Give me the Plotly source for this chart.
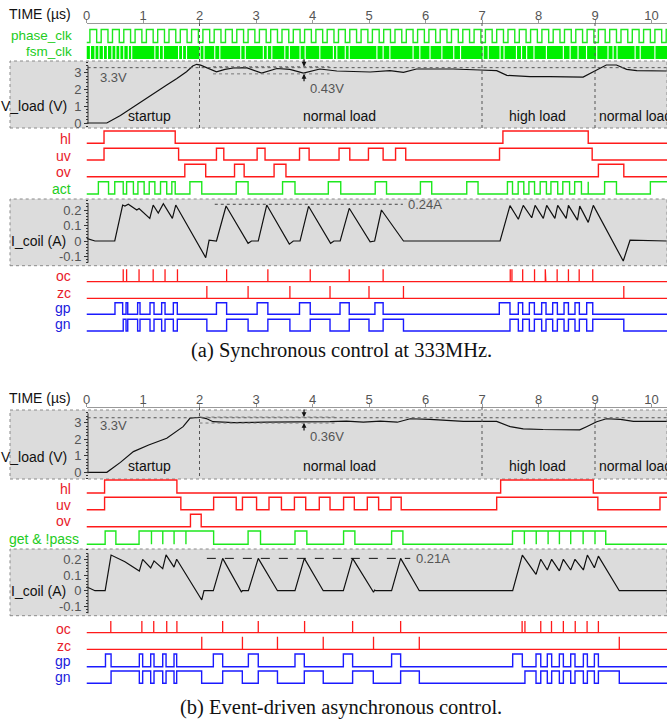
import plotly.graph_objects as go

# ---------------------------------------------------------------- geometry
W, H = 667, 719
T0_PX = 86.5          # pixel column of t = 0
PX_PER_US = 56.5
T_END = (W - T0_PX) / PX_PER_US

# ---------------------------------------------------------------- data
TIME_TICKS = list(range(0, 11))

# panel (a) : synchronous control
A_PHASE_CLK_RISE = [0.06, 0.26, 0.46, 0.66, 0.86, 1.06, 1.26, 1.46, 1.66, 1.86, 2.06, 2.26, 2.46,
                    2.66, 2.86, 3.06, 3.26, 3.46, 3.66, 3.86, 4.06, 4.26, 4.46, 4.66, 4.86, 5.06,
                    5.26, 5.46, 5.66, 5.86, 6.06, 6.26, 6.46, 6.66, 6.86, 7.06, 7.26, 7.46, 7.66,
                    7.86, 8.06, 8.26, 8.46, 8.66, 8.86, 9.06, 9.26, 9.46, 9.66, 9.86, 10.06, 10.26]
A_PHASE_CLK_HIGH = 0.12
A_FSM_CLK_GAPS = [0.07, 0.15, 0.22, 0.30, 0.37, 0.45, 0.52, 0.59, 0.66, 0.74, 0.80, 1.21, 1.29,
                  1.36, 1.63, 1.70, 1.77, 2.01, 2.08, 2.27, 2.36, 2.73, 2.81, 3.13, 3.20, 3.28,
                  3.51, 3.59, 3.78, 3.87, 4.13, 4.37, 4.43, 4.58, 4.65, 5.14, 5.25, 5.37, 5.78,
                  5.90, 6.08, 6.29, 6.50, 6.62, 7.02, 7.11, 7.32, 7.39, 7.61, 7.70, 7.79, 7.92,
                  8.14, 8.44, 8.56, 8.70, 8.85, 9.03, 9.23, 9.32, 9.39, 9.71, 9.80, 10.06]
A_V_T = [0, 0.36, 0.6, 0.83, 1.1, 1.42, 1.6, 1.77, 1.88, 1.95, 2.02, 2.13, 2.30, 2.45, 2.60, 2.83,
         3.10, 3.37, 3.60, 3.84, 4.13, 4.43, 4.66, 5.02, 5.37, 5.61, 5.84, 6.49, 6.96, 7.26, 7.44,
         7.85, 8.2, 8.79, 9.03, 9.2, 9.38, 9.56, 9.74, 10.27]
A_V = [0, 0, 0.45, 0.97, 1.55, 2.27, 2.65, 3.06, 3.4, 3.5, 3.45, 3.3, 3.05, 3.2, 3.28, 3.3, 2.98,
       3.25, 3.2, 2.98, 3.22, 3.1, 3.06, 3.04, 3.12, 3.02, 3.22, 3.22, 3.16, 3.12, 2.84, 2.76, 2.76,
       2.74, 3.16, 3.46, 3.46, 3.2, 3.12, 3.10]
A_HL = [(0.31, 1.57), (7.37, 8.88)]
A_UV = [(0.31, 1.63), (2.30, 2.43), (3.02, 3.16), (3.77, 3.94), (4.47, 4.66), (4.99, 5.25),
        (5.47, 5.65), (7.31, 8.95)]
A_OV = [(1.74, 2.11), (2.62, 2.79), (3.32, 3.53), (9.06, 9.51)]
A_ACT = [(0.21, 0.39), (0.50, 0.65), (0.71, 0.83), (0.91, 1.02), (1.11, 1.21), (1.31, 1.42),
         (1.51, 1.57), (1.83, 2.04), (2.65, 2.86), (3.47, 3.69), (4.28, 4.50), (5.11, 5.31),
         (5.91, 6.11), (6.73, 6.93), (7.45, 7.54), (7.64, 7.74), (7.83, 7.93), (8.03, 8.14),
         (8.22, 8.34), (8.43, 8.55), (8.64, 8.76), (8.88, 8.88), (9.17, 9.38), (9.98, None)]
A_I_T = [0, 0.15, 0.5, 0.64, 0.68, 0.74, 0.89, 0.93, 1.12, 1.18, 1.27, 1.36, 1.52, 1.58, 2.11, 2.17,
         2.30, 2.47, 2.86, 2.92, 3.04, 3.19, 3.59, 3.66, 3.78, 3.93, 4.32, 4.38, 4.49, 4.65, 5.02,
         5.10, 5.22, 5.61, 7.32, 7.495, 7.643, 7.73, 7.88, 7.94, 8.085, 8.145, 8.29, 8.34, 8.49,
         8.53, 8.69, 8.73, 8.88, 8.97, 9.50, 9.62, 10.27]
A_I = [0.017, 0, 0, 0.232, 0.226, 0.237, 0.2, 0.21, 0.146, 0.232, 0.18, 0.24, 0.146, 0.232, -0.107,
       0.006, 0, 0.226, -0.015, 0, 0, 0.232, -0.02, 0, 0, 0.224, -0.015, 0, 0, 0.211, -0.005, 0,
       0.2, 0, 0, 0.228, 0.14, 0.23, 0.15, 0.23, 0.146, 0.23, 0.146, 0.23, 0.146, 0.23, 0.135,
       0.225, 0.12, 0.23, -0.129, 0.005, 0]
A_OC = [0.65, 0.71, 0.93, 1.18, 1.39, 1.61, 2.48, 3.21, 3.96, 4.65, 5.25, 7.50, 7.53, 7.72, 7.93,
        8.12, 8.13, 8.33, 8.53, 8.72, 8.96]
A_ZC = [2.13, 2.86, 3.60, 4.31, 5.00, 5.61, 9.51]
A_GP = [(0.504, 0.64), (0.70, 0.73), (0.905, 0.947), (1.124, 1.195), (1.33, 1.39), (1.537, 1.607),
        (2.30, 2.48), (3.02, 3.21), (3.77, 3.96), (4.487, 4.65), (5.105, 5.25), (7.306, 7.495),
        (7.643, 7.72), (7.838, 7.927), (8.056, 8.133), (8.251, 8.334), (8.452, 8.53),
        (8.646, 8.723), (8.853, 8.96)]
A_GN = [(0.65, 0.70), (0.73, 0.905), (0.947, 1.124), (1.195, 1.33), (1.39, 1.537), (1.607, 2.13),
        (2.48, 2.86), (3.21, 3.60), (3.96, 4.31), (4.65, 5.00), (5.25, 5.61), (7.495, 7.643),
        (7.72, 7.838), (7.927, 8.056), (8.133, 8.251), (8.334, 8.452), (8.53, 8.646),
        (8.723, 8.853), (8.96, 9.51)]

# panel (b) : event-driven asynchronous control
B_V_T = [0, 0.36, 0.6, 0.83, 1.1, 1.42, 1.71, 1.83, 2.01, 2.12, 2.24, 2.6, 3.19, 3.78, 4.31, 4.6,
         4.9, 5.2, 5.5, 5.73, 6.08, 6.67, 7.26, 7.5, 7.73, 8.08, 8.73, 8.85, 9.03, 9.2, 9.45, 9.68,
         10.27]
B_V = [0, 0, 0.6, 1.25, 1.65, 2.06, 2.76, 3.27, 3.33, 3.25, 3.06, 3.0, 3.03, 3.04, 3.06, 3.1, 3.04,
       3.1, 3.03, 3.24, 3.2, 3.08, 3.08, 2.76, 2.63, 2.59, 2.57, 2.76, 3.06, 3.24, 3.2, 3.08, 3.08]
B_HL = [(0.32, 1.60), (7.33, 8.97)]
B_UV = [(0.32, 1.67), (2.25, 2.65), (2.76, 3.01), (3.23, 3.45), (3.68, 3.88), (4.12, 4.31),
        (4.55, 4.74), (4.97, 5.17), (5.39, 5.57), (7.26, 9.05), (10.15, None)]
B_OV = [(1.84, 2.03)]
B_GET = [(0.33, 0.52), (0.93, 1.15), (1.15, 1.35), (1.35, 1.55), (1.55, 1.76), (1.76, 2.25),
         (2.86, 3.08), (3.69, 3.90), (4.55, 4.75), (5.40, 5.60), (7.54, 7.75), (7.75, 7.96),
         (7.96, 8.17), (8.17, 8.37), (8.37, 8.57), (8.57, 8.79), (8.79, 9.00), (9.00, 9.19)]
B_I_T = [0, 0.15, 0.33, 0.435, 0.68, 0.935, 0.994, 1.136, 1.195, 1.349, 1.408, 1.549, 1.596, 2.04,
         2.08, 2.245, 2.41, 2.74, 2.76, 2.865, 3.04, 3.38, 3.69, 3.855, 4.19, 4.546, 4.71, 5.08,
         5.10, 5.12, 5.40, 5.56, 5.89, 7.543, 7.714, 7.956, 8.04, 8.156, 8.233, 8.369, 8.44, 8.57,
         8.646, 8.794, 8.865, 8.989, 9.06, 9.43, 10.27]
B_I = [0.025, 0, 0, 0.227, 0.185, 0.125, 0.2, 0.145, 0.19, 0.14, 0.228, 0.15, 0.2, -0.059, 0, 0,
       0.206, -0.007, 0, 0, 0.206, 0, 0, 0.206, 0, 0, 0.206, -0.01, 0.004, 0, 0, 0.206, 0, 0,
       0.227, 0.104, 0.2, 0.132, 0.2, 0.126, 0.2, 0.132, 0.2, 0.132, 0.227, 0.146, 0.22, 0, 0]
B_OC = [0.43, 0.98, 1.19, 1.42, 1.60, 2.41, 3.04, 3.86, 4.71, 5.56, 7.71, 7.76, 8.04, 8.23, 8.44,
        8.65, 8.86, 9.06]
B_ZC = [2.04, 2.76, 3.38, 4.19, 5.08, 5.89, 9.43]
B_GP = [(0.336, 0.435), (0.935, 0.994), (1.136, 1.195), (1.349, 1.408), (1.549, 1.596),
        (2.245, 2.41), (2.865, 3.04), (3.69, 3.855), (4.546, 4.71), (5.40, 5.56), (7.543, 7.714),
        (7.956, 8.04), (8.156, 8.233), (8.369, 8.44), (8.57, 8.646), (8.794, 8.865), (8.989, 9.06)]
B_GN = [(0.435, 0.935), (0.994, 1.136), (1.195, 1.349), (1.408, 1.549), (1.596, 2.038),
        (2.41, 2.758), (3.04, 3.38), (3.855, 4.19), (4.71, 5.076), (5.56, 5.891), (7.76, 7.956),
        (8.04, 8.156), (8.233, 8.369), (8.44, 8.57), (8.646, 8.794), (8.865, 8.989), (9.06, 9.43)]

V_REF = 3.3
A_RIPPLE = (3.36, 2.93, "0.43V")
B_RIPPLE = (3.34, 2.98, "0.36V")
A_I_PEAK = (0.237, "0.24A")
B_I_PEAK = (0.206, "0.21A")
LOAD_MARKS = [2, 7, 9]

# ---------------------------------------------------------------- styles
RED, GREEN, BLUE = "#ff1a1a", "#1ee81e", "#1a1aff"
RED_T, GREEN_T, BLUE_T = "#e8202a", "#22cc22", "#2020dd"
GRAY_BOX = "#dcdcdc"
GRAYTXT = "#555"
SANS = "Liberation Sans, Arial, sans-serif"
SERIF = "Liberation Serif, Times New Roman, serif"


def pxx(x):
    return x / W


def pxy(y):
    return 1 - y / H


fig = go.Figure()


def step(intervals, hi, lo):
    xs, ys = [0], [lo]
    for r, f in intervals:
        xs += [r, r]
        ys += [lo, hi]
        if f is None:
            xs.append(T_END)
            ys.append(hi)
            break
        xs += [f, f]
        ys += [hi, lo]
    else:
        xs.append(T_END)
        ys.append(lo)
    return xs, ys


def add_digital(intervals, hi, lo, color, xa):
    xs, ys = step(intervals, hi, lo)
    fig.add_trace(go.Scatter(x=xs, y=ys, mode="lines", xaxis=xa, yaxis="y",
                             line=dict(color=color, width=1.4),
                             hoverinfo="skip", showlegend=False))


def add_pulses(times, top, base, color, xa):
    xs, ys = [0], [base]
    for t in times:
        xs += [t, t, t]
        ys += [base, top, base]
    xs.append(T_END)
    ys.append(base)
    fig.add_trace(go.Scatter(x=xs, y=ys, mode="lines", xaxis=xa, yaxis="y",
                             line=dict(color=color, width=1.3),
                             hoverinfo="skip", showlegend=False))


def add_label(text, x_px, y_px, color, size=14, anchor="right"):
    fig.add_annotation(text=text, x=pxx(x_px + 1.5), y=pxy(y_px), xref="paper", yref="paper",
                       showarrow=False, xanchor=anchor, yanchor="middle",
                       font=dict(family=SANS, size=size, color=color))


def gray_box(y0, y1):
    fig.add_shape(type="rect", xref="paper", yref="paper", x0=pxx(10), x1=1.0,
                  y0=pxy(y1), y1=pxy(y0), fillcolor=GRAY_BOX, layer="below",
                  line=dict(color="#8a8a8a", width=1, dash="dot"))


# ---------------------------------------------------------------- gray panels
gray_box(61, 128)
gray_box(199, 265.7)
gray_box(410, 479)
gray_box(549, 615.7)

# ---------------------------------------------------------------- panel (a) clocks
pc = [(r, r + A_PHASE_CLK_HIGH) for r in A_PHASE_CLK_RISE if r < T_END]
add_digital(pc, 29.5, 42.5, GREEN, "x")

fx, fy = [], []
edges = [0] + A_FSM_CLK_GAPS + [T_END]
GAP_W = 0.010
for i in range(len(edges) - 1):
    a = edges[i] + (GAP_W if i > 0 else 0)
    b = edges[i + 1] - (GAP_W if i < len(edges) - 2 else 0)
    fx += [a, b, b, a, a, None]
    fy += [46, 46, 59, 59, 46, None]
fig.add_trace(go.Scatter(x=fx, y=fy, mode="lines", fill="toself", fillcolor="#00f000",
                         line=dict(width=0, color="#00f000"), xaxis="x", yaxis="y",
                         hoverinfo="skip", showlegend=False))

# ---------------------------------------------------------------- panel (a) signals
add_digital(A_HL, 131, 143.3, RED, "x")
add_digital(A_UV, 148.3, 160, RED, "x")
add_digital(A_OV, 164.3, 176.7, RED, "x")
add_digital(A_ACT, 181.7, 194, GREEN, "x")
add_pulses(A_OC, 269.3, 281.7, RED, "x")
add_pulses(A_ZC, 286, 298.3, RED, "x")
add_digital(A_GP, 302.7, 314.3, BLUE, "x")
add_digital(A_GN, 319.3, 331, BLUE, "x")

# ---------------------------------------------------------------- panel (b) signals
add_digital(B_HL, 480, 493, RED, "x2")
add_digital(B_UV, 497.3, 509.7, RED, "x2")
add_digital(B_OV, 514.3, 526.7, RED, "x2")
add_digital(B_GET, 531, 544.3, GREEN, "x2")
add_pulses(B_OC, 621, 632.7, RED, "x2")
add_pulses(B_ZC, 636.7, 649.3, RED, "x2")
add_digital(B_GP, 654, 666.7, BLUE, "x2")
add_digital(B_GN, 671, 683.3, BLUE, "x2")

# ---------------------------------------------------------------- analog traces
for xs, ys, xa, ya in [(A_V_T, A_V, "x", "y2"), (A_I_T, A_I, "x", "y3"),
                       (B_V_T, B_V, "x2", "y4"), (B_I_T, B_I, "x2", "y5")]:
    fig.add_trace(go.Scatter(x=xs, y=ys, mode="lines", xaxis=xa, yaxis=ya,
                             line=dict(color="#111", width=1.2),
                             hoverinfo="skip", showlegend=False))

# reference lines, ripple bands and arrows
for xa, ya, rip, r0, r1 in [("x", "y2", A_RIPPLE, 2.24, 4.3), ("x2", "y4", B_RIPPLE, 2.0, 4.4)]:
    fig.add_shape(type="line", xref=xa, yref=ya, x0=0.02, x1=T_END, y0=V_REF, y1=V_REF,
                  line=dict(color="#555", width=1, dash="dot"))
    for v in rip[:2]:
        fig.add_shape(type="line", xref=xa, yref=ya, x0=r0, x1=r1, y0=v, y1=v,
                      line=dict(color="#777", width=1, dash="dot"))
    fig.add_annotation(x=3.85, y=rip[0], xref=xa, yref=ya, ax=0, ay=-9, text="", showarrow=True,
                       arrowhead=2, arrowsize=0.8, arrowwidth=1.2, arrowcolor="#111")
    fig.add_annotation(x=3.85, y=rip[1], xref=xa, yref=ya, ax=0, ay=9, text="", showarrow=True,
                       arrowhead=2, arrowsize=0.8, arrowwidth=1.2, arrowcolor="#111")

fig.add_shape(type="line", xref="x", yref="y3", x0=2.27, x1=5.6, y0=A_I_PEAK[0], y1=A_I_PEAK[0],
              line=dict(color="#444", width=1, dash="dot"))
fig.add_shape(type="line", xref="x2", yref="y5", x0=2.13, x1=5.73, y0=B_I_PEAK[0], y1=B_I_PEAK[0],
              line=dict(color="#111", width=1, dash="dash"))

# load-change markers
for t in LOAD_MARKS:
    fig.add_shape(type="line", xref="x", yref="y", x0=t, x1=t, y0=23, y1=128,
                  line=dict(color="#555", width=1, dash="dot"))
    fig.add_shape(type="line", xref="x2", yref="y", x0=t, x1=t, y0=407, y1=479,
                  line=dict(color="#555", width=1, dash="dot"))

# y-axis lines (drawn only over the labelled extent)
for ya, lo, hi in [("y2", -0.06, 3.42), ("y3", -0.14, 0.245), ("y4", -0.06, 3.57),
                   ("y5", -0.144, 0.238)]:
    fig.add_shape(type="line", xref="paper", yref=ya, x0=pxx(88), x1=pxx(88), y0=lo, y1=hi,
                  line=dict(color="#333", width=1))

# ---------------------------------------------------------------- text
add_label("TIME (µs)", 71, 14.5, "#111", 14)
add_label("TIME (µs)", 71, 397.5, "#111", 14)

add_label("phase_clk", 72.5, 35, GREEN_T, 13.5)
add_label("fsm_clk", 72.5, 52, GREEN_T, 13.5)
add_label("V_load (V)", 67, 106, "#111")
add_label("hl", 71.5, 139, RED_T)
add_label("uv", 71.5, 156, RED_T)
add_label("ov", 71.5, 172, RED_T)
add_label("act", 71.5, 189, GREEN_T)
add_label("I_coil (A)", 66, 241, "#111")
add_label("oc", 71.5, 276, RED_T)
add_label("zc", 71.5, 293, RED_T)
add_label("gp", 71.5, 308, BLUE_T)
add_label("gn", 71.5, 324, BLUE_T)

add_label("V_load (V)", 67, 456.5, "#111")
add_label("hl", 71.5, 489, RED_T)
add_label("uv", 71.5, 505, RED_T)
add_label("ov", 71.5, 521, RED_T)
add_label("get & !pass", 79, 539, GREEN_T)
add_label("I_coil (A)", 66, 590.5, "#111")
add_label("oc", 71.5, 629, RED_T)
add_label("zc", 71.5, 646, RED_T)
add_label("gp", 71.5, 661, BLUE_T)
add_label("gn", 71.5, 677, BLUE_T)

PANEL_TEXT = [("x", 116, 77, 88.5, A_RIPPLE), ("x2", 466, 425, 436.5, B_RIPPLE)]
for xa, y_lbl, y_ref, y_rip, rip in PANEL_TEXT:
    for txt, t, anchor in [("startup", 1.12, "center"), ("normal load", 4.47, "center"),
                           ("high load", 7.99, "center"), ("normal load", 9.03, "left")]:
        fig.add_annotation(text=txt, x=t, y=y_lbl, xref=xa, yref="y", showarrow=False,
                           xanchor=anchor, yanchor="middle",
                           font=dict(family=SANS, size=14, color="#111"))
    fig.add_annotation(text="3.3V", x=0.47, y=y_ref, xref=xa, yref="y", showarrow=False,
                       yanchor="middle", font=dict(family=SANS, size=13, color=GRAYTXT))
    fig.add_annotation(text=rip[2], x=3.92, y=y_rip, xref=xa, yref="y", showarrow=False,
                       xanchor="left", yanchor="middle",
                       font=dict(family=SANS, size=13, color=GRAYTXT))

fig.add_annotation(text=A_I_PEAK[1], x=5.65, y=A_I_PEAK[0], xref="x", yref="y3", showarrow=False,
                   xanchor="left", yanchor="middle",
                   font=dict(family=SANS, size=13, color=GRAYTXT))
fig.add_annotation(text=B_I_PEAK[1], x=5.80, y=B_I_PEAK[0], xref="x2", yref="y5", showarrow=False,
                   xanchor="left", yanchor="middle",
                   font=dict(family=SANS, size=13, color=GRAYTXT))

fig.add_annotation(text="(a) Synchronous control at 333MHz.", x=pxx(341), y=pxy(350),
                   xref="paper", yref="paper", showarrow=False, xanchor="center",
                   yanchor="middle", font=dict(family=SERIF, size=20.5, color="#111"))
fig.add_annotation(text="(b) Event-driven asynchronous control.", x=pxx(341), y=pxy(707),
                   xref="paper", yref="paper", showarrow=False, xanchor="center",
                   yanchor="middle", font=dict(family=SERIF, size=20.5, color="#111"))

# ---------------------------------------------------------------- axes
time_axis = dict(domain=[T0_PX / W, 1], range=[0, T_END], anchor="free", side="top",
                 showline=True, linecolor="#999", linewidth=1, ticks="outside", ticklen=3,
                 tickcolor="#999", tickvals=TIME_TICKS, showgrid=False, zeroline=False,
                 automargin=False, ticklabelstandoff=-5,
                 tickfont=dict(family=SANS, size=13, color=GRAYTXT), fixedrange=True)


def analog_axis(top_px, bot_px, zero_px, unit_px, tickvals, ticktext, minor):
    return dict(domain=[pxy(bot_px), pxy(top_px)],
                range=[(zero_px - bot_px) / unit_px, (zero_px - top_px) / unit_px],
                anchor="free", position=pxx(88), showline=False, showgrid=False,
                zeroline=False, ticks="outside", ticklen=4, tickcolor="#333",
                tickvals=tickvals, ticktext=ticktext, automargin=False,
                tickfont=dict(family=SANS, size=13, color=GRAYTXT),
                minor=dict(ticks="outside", ticklen=2, dtick=minor, tickcolor="#333"),
                fixedrange=True)


fig.update_layout(
    width=W, height=H, margin=dict(l=0, r=0, t=0, b=0, pad=0),
    paper_bgcolor="white", plot_bgcolor="rgba(0,0,0,0)", showlegend=False,
    hovermode=False,
    xaxis=dict(time_axis, position=pxy(23)),
    xaxis2=dict(time_axis, position=pxy(407)),
    yaxis=dict(domain=[0, 1], range=[H, 0], visible=False, anchor="free", position=0,
               automargin=False, fixedrange=True),
    yaxis2=analog_axis(61, 128, 123, 16.77, [0, 1, 2, 3], ["0", "1", "2", "3"], 0.2),
    yaxis3=analog_axis(199, 265.7, 241, 155, [-0.1, 0, 0.1, 0.2],
                       ["-0.1", "0", "0.1", "0.2"], 0.02),
    yaxis4=analog_axis(410, 479, 472.3, 16.53, [0, 1, 2, 3], ["0", "1", "2", "3"], 0.2),
    yaxis5=analog_axis(549, 615.7, 590.7, 157, [-0.1, 0, 0.1, 0.2],
                       ["-0.1", "0", "0.1", "0.2"], 0.02),
)

fig.write_html("out.html", config={"displayModeBar": False, "staticPlot": True},
               post_script="document.body.style.margin='0px';document.body.style.overflow='hidden';")
